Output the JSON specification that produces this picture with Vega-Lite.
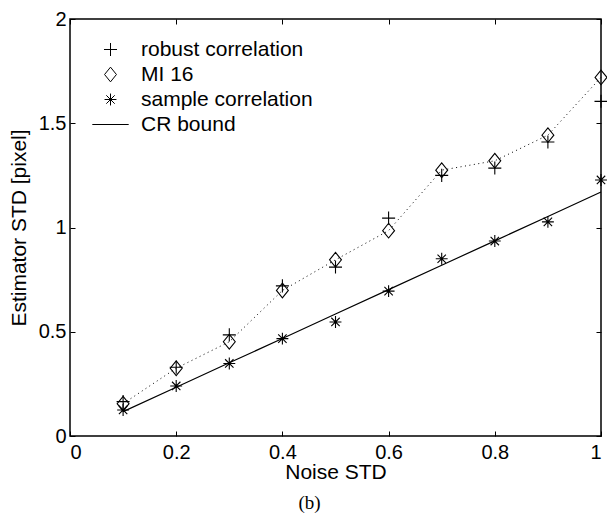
{
  "$schema": "https://vega.github.io/schema/vega-lite/v6.json",
  "width": 531,
  "height": 417,
  "autosize": "none",
  "padding": {"left": 70, "top": 19, "right": 6, "bottom": 80},
  "background": "white",
  "config": {
    "view": {"stroke": "black", "strokeWidth": 1.5},
    "axis": {
      "grid": false,
      "domain": false,
      "labelFont": "Liberation Sans",
      "titleFont": "Liberation Sans",
      "labelFontSize": 20,
      "titleFontSize": 21,
      "titleFontWeight": "normal",
      "labelColor": "black",
      "titleColor": "black",
      "tickColor": "black",
      "tickSize": -5,
      "tickWidth": 1
    }
  },
  "title": {
    "text": "(b)",
    "orient": "bottom",
    "font": "Liberation Serif",
    "fontSize": 19,
    "fontWeight": "normal",
    "color": "black",
    "anchor": "middle",
    "frame": "group",
    "dx": -26,
    "offset": 12
  },
  "data": {
    "values": [
      {"series": "robust correlation", "noise": 0.1, "std": 0.165},
      {"series": "robust correlation", "noise": 0.2, "std": 0.33},
      {"series": "robust correlation", "noise": 0.3, "std": 0.485},
      {"series": "robust correlation", "noise": 0.4, "std": 0.72},
      {"series": "robust correlation", "noise": 0.5, "std": 0.81},
      {"series": "robust correlation", "noise": 0.6, "std": 1.045},
      {"series": "robust correlation", "noise": 0.7, "std": 1.25},
      {"series": "robust correlation", "noise": 0.8, "std": 1.285},
      {"series": "robust correlation", "noise": 0.9, "std": 1.41},
      {"series": "robust correlation", "noise": 1.0, "std": 1.605},
      {"series": "MI 16", "noise": 0.1, "std": 0.155},
      {"series": "MI 16", "noise": 0.2, "std": 0.325},
      {"series": "MI 16", "noise": 0.3, "std": 0.452},
      {"series": "MI 16", "noise": 0.4, "std": 0.698},
      {"series": "MI 16", "noise": 0.5, "std": 0.845},
      {"series": "MI 16", "noise": 0.6, "std": 0.985},
      {"series": "MI 16", "noise": 0.7, "std": 1.275},
      {"series": "MI 16", "noise": 0.8, "std": 1.32},
      {"series": "MI 16", "noise": 0.9, "std": 1.443},
      {"series": "MI 16", "noise": 1.0, "std": 1.72},
      {"series": "sample correlation", "noise": 0.1, "std": 0.125},
      {"series": "sample correlation", "noise": 0.2, "std": 0.24},
      {"series": "sample correlation", "noise": 0.3, "std": 0.348},
      {"series": "sample correlation", "noise": 0.4, "std": 0.467},
      {"series": "sample correlation", "noise": 0.5, "std": 0.547},
      {"series": "sample correlation", "noise": 0.6, "std": 0.695},
      {"series": "sample correlation", "noise": 0.7, "std": 0.85},
      {"series": "sample correlation", "noise": 0.8, "std": 0.935},
      {"series": "sample correlation", "noise": 0.9, "std": 1.027},
      {"series": "sample correlation", "noise": 1.0, "std": 1.228},
      {"series": "CR bound", "noise": 0.1, "std": 0.117},
      {"series": "CR bound", "noise": 0.2, "std": 0.234},
      {"series": "CR bound", "noise": 0.3, "std": 0.351},
      {"series": "CR bound", "noise": 0.4, "std": 0.468},
      {"series": "CR bound", "noise": 0.5, "std": 0.585},
      {"series": "CR bound", "noise": 0.6, "std": 0.702},
      {"series": "CR bound", "noise": 0.7, "std": 0.819},
      {"series": "CR bound", "noise": 0.8, "std": 0.936},
      {"series": "CR bound", "noise": 0.9, "std": 1.053},
      {"series": "CR bound", "noise": 1.0, "std": 1.17}
    ]
  },
  "resolve": {"axis": {"x": "independent", "y": "independent"}},
  "layer": [
    {
      "transform": [{"filter": "datum.series === 'MI 16'"}],
      "mark": {"type": "line", "color": "black", "strokeWidth": 1, "strokeDash": [1, 3.5]},
      "encoding": {
        "x": {"field": "noise", "type": "quantitative", "scale": {"domain": [0, 1], "nice": false},
              "axis": {"orient": "bottom", "values": [0, 0.2, 0.4, 0.6, 0.8, 1], "format": "~g", "title": "Noise STD", "labelPadding": 11, "titlePadding": -1}},
        "y": {"field": "std", "type": "quantitative", "scale": {"domain": [0, 2], "nice": false, "zero": false},
              "axis": {"orient": "left", "values": [0, 0.5, 1, 1.5, 2], "format": "~g", "title": "Estimator STD [pixel]", "labelPadding": 9, "titlePadding": 9}}
      }
    },
    {
      "transform": [{"filter": "datum.series === 'CR bound'"}],
      "mark": {"type": "line", "color": "black", "strokeWidth": 1.2},
      "encoding": {
        "x": {"field": "noise", "type": "quantitative",
              "axis": {"orient": "top", "values": [0, 0.2, 0.4, 0.6, 0.8, 1], "labels": false, "title": null}},
        "y": {"field": "std", "type": "quantitative",
              "axis": {"orient": "right", "values": [0, 0.5, 1, 1.5, 2], "labels": false, "title": null}}
      }
    },
    {
      "transform": [{"filter": "datum.series !== 'CR bound'"}],
      "mark": {"type": "point", "filled": false, "stroke": "black", "strokeWidth": 1.1, "size": 196, "opacity": 1},
      "encoding": {
        "x": {"field": "noise", "type": "quantitative", "axis": null},
        "y": {"field": "std", "type": "quantitative", "axis": null},
        "shape": {
          "field": "series",
          "type": "nominal",
          "scale": {
            "domain": ["robust correlation", "MI 16", "sample correlation", "CR bound"],
            "range": [
              "M-0.93,0L0.93,0M0,-0.93L0,0.93",
              "M0,-1.05L0.85,0L0,1.05L-0.85,0Z",
              "M-0.85,0L0.85,0M0,-0.85L0,0.85M-0.6,-0.6L0.6,0.6M-0.6,0.6L0.6,-0.6",
              "M-2.6,0L2.6,0"
            ]
          },
          "legend": {
            "title": null,
            "orient": "none",
            "legendX": 30,
            "legendY": 20,
            "padding": 0,
            "symbolSize": 196,
            "symbolStrokeColor": "black",
            "symbolFillColor": "transparent",
            "symbolStrokeWidth": 1,
            "labelFont": "Liberation Sans",
            "labelFontSize": 21,
            "labelColor": "black",
            "labelLimit": 400,
            "labelOffset": 20,
            "rowPadding": 3,
            "encode": {
              "symbols": {
                "enter": {
                  "shape": {"signal": "datum.label === 'MI 16' ? 'M0,-1.05L0.85,0L0,1.05L-0.85,0ZM-2.6,0L-2.35,0M-2.1,0L-1.85,0M-1.6,0L-1.35,0M-1.12,0L-0.9,0M0.9,0L1.12,0M1.35,0L1.6,0M1.85,0L2.1,0M2.35,0L2.6,0M-0.12,0L0.12,0' : datum.label === 'CR bound' ? 'M-2.6,0L2.6,0' : datum.label === 'robust correlation' ? 'M-0.93,0L0.93,0M0,-0.93L0,0.93' : 'M-0.85,0L0.85,0M0,-0.85L0,0.85M-0.6,-0.6L0.6,0.6M-0.6,0.6L0.6,-0.6'"}
                },
                "update": {
                  "shape": {"signal": "datum.label === 'MI 16' ? 'M0,-1.05L0.85,0L0,1.05L-0.85,0ZM-2.6,0L-2.35,0M-2.1,0L-1.85,0M-1.6,0L-1.35,0M-1.12,0L-0.9,0M0.9,0L1.12,0M1.35,0L1.6,0M1.85,0L2.1,0M2.35,0L2.6,0M-0.12,0L0.12,0' : datum.label === 'CR bound' ? 'M-2.6,0L2.6,0' : datum.label === 'robust correlation' ? 'M-0.93,0L0.93,0M0,-0.93L0,0.93' : 'M-0.85,0L0.85,0M0,-0.85L0,0.85M-0.6,-0.6L0.6,0.6M-0.6,0.6L0.6,-0.6'"},
                  "fill": {"value": "transparent"},
                  "stroke": {"value": "black"},
                  "strokeWidth": {"value": 1},
                  "opacity": {"value": 1}
                }
              }
            }
          }
        }
      }
    }
  ]
}
